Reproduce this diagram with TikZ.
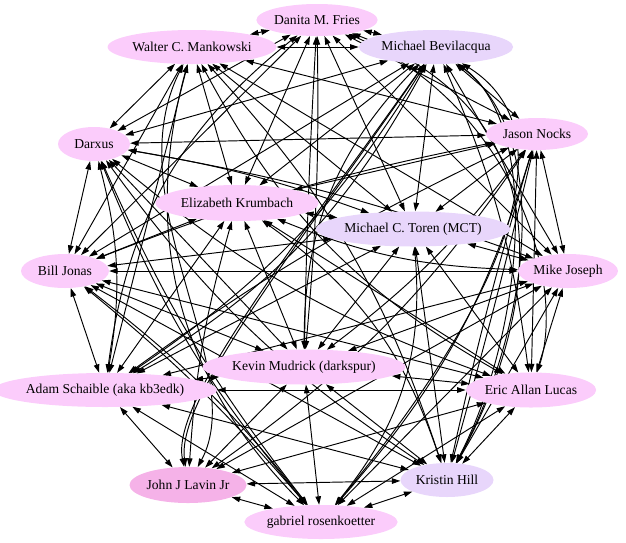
\documentclass[tikz,border=0pt]{standalone}
\usepackage{fontspec}
\setmainfont{Liberation Serif}
\usetikzlibrary{shapes.geometric,arrows.meta}
\pgfdeclarelayer{background}
\pgfsetlayers{background,main}
\definecolor{pinkn}{RGB}{251,204,251}
\definecolor{lavn}{RGB}{232,214,251}
\definecolor{johnn}{RGB}{245,178,232}
\tikzset{
  person/.style={ellipse,draw=none,inner sep=0pt,minimum height=34pt,font=\fontsize{13.6}{14}\selectfont},
  edge/.style={draw=black,line width=0.95pt,{Triangle[length=8.5pt,width=5.5pt]}-{Triangle[length=8.5pt,width=5.5pt]}}
}
\begin{document}
\begin{tikzpicture}[x=1pt,y=-1pt]
\useasboundingbox (0,0) rectangle (626,542);
\node[person,fill=pinkn,minimum width=118pt,minimum height=32pt] (dan) at (317,20) {Danita M. Fries};
\node[person,fill=pinkn,minimum width=162pt] (wal) at (192,47) {Walter C. Mankowski};
\node[person,fill=lavn,minimum width=152pt] (bev) at (436,47) {Michael Bevilacqua};
\node[person,fill=pinkn,minimum width=72pt] (dar) at (94,144) {Darxus};
\node[person,fill=pinkn,minimum width=102pt,minimum height=32pt] (jas) at (537,134) {Jason Nocks};
\node[person,fill=pinkn,minimum width=163pt,minimum height=36pt] (eli) at (237,203) {Elizabeth Krumbach};
\node[person,fill=lavn,minimum width=177pt,minimum height=35pt] (tor) at (413,229) {Michael C. Toren (MCT)};
\node[person,fill=pinkn,minimum width=88pt] (bil) at (65,271) {Bill Jonas};
\node[person,fill=pinkn,minimum width=100pt] (mik) at (568,271) {Mike Joseph};
\node[person,fill=pinkn,minimum width=198pt,minimum height=35pt] (kev) at (304,367) {Kevin Mudrick (darkspur)};
\node[person,fill=pinkn,minimum width=204pt] (ada) at (105,390) {Adam Schaible (aka kb3edk)};
\node[person,fill=pinkn,minimum width=128pt,minimum height=35pt] (eri) at (531,390) {Eric Allan Lucas};
\node[person,fill=johnn,minimum width=115pt,minimum height=36pt] (joh) at (188,485) {John J Lavin Jr};
\node[person,fill=lavn,minimum width=93pt] (kri) at (447,480) {Kristin Hill};
\node[person,fill=pinkn,minimum width=152pt] (gab) at (321,522) {gabriel rosenkoetter};
\begin{pgfonlayer}{background}
% Danita
\draw[edge] (dan) -- (wal);
\draw[edge] (dan) -- (bev);
\draw[edge] (dan) -- (dar);
\draw[edge] (dan) -- (jas);
\draw[edge] (dan) -- (eli);
\draw[edge] (dan) -- (tor);
\draw[edge] (dan) -- (bil);
\draw[edge] (dan) -- (mik);
\draw[edge] (dan) to[bend left=3] (kev);
\draw[edge] (kev) to[bend left=1] (dan);
\draw[edge] (dan) to[bend right=22] (ada);
\draw[edge] (dan) .. controls (520,110) and (565,290) .. (eri);
\draw[edge] (dan) .. controls (580,120) and (530,330) .. (kri);
% Walter
\draw[edge] (wal) -- (bev);
\draw[edge] (wal) -- (dar);
\draw[edge] (wal) -- (jas);
\draw[edge] (wal) -- (eli);
\draw[edge] (wal) -- (tor);
\draw[edge] (wal) -- (bil);
\draw[edge] (wal) -- (mik);
\draw[edge] (wal) -- (ada);
\draw[edge] (wal) to[bend right=16] (eri);
\draw[edge] (wal) .. controls (115,200) and (250,370) .. (joh);
\draw[edge] (wal) to[bend left=12] (kri);
\draw[edge] (wal) to[bend right=30] (gab);
% Bevilacqua
\draw[edge] (bev) -- (dar);
\draw[edge] (bev) -- (jas);
\draw[edge] (bev) -- (eli);
\draw[edge] (bev) -- (tor);
\draw[edge] (bev) -- (bil);
\draw[edge] (bev) -- (mik);
\draw[edge] (bev) to[bend right=22] (kev);
\draw[edge] (bev) to[bend left=12] (ada);
\draw[edge] (bev) to[bend left=15] (ada);
\draw[edge] (bev) to[bend left=8] (eri);
\draw[edge] (bev) .. controls (300,240) and (170,400) .. (joh);
\draw[edge] (bev) .. controls (306,236) and (176,396) .. (joh);
\draw[edge] (bev) .. controls (545,130) and (520,340) .. (kri);
\draw[edge] (bev) .. controls (555,140) and (528,330) .. (kri);
\draw[edge] (bev) .. controls (600,150) and (440,380) .. (gab);
% Darxus
\draw[edge] (dar) -- (jas);
\draw[edge] (dar) -- (eli);
\draw[edge] (dar) to[bend left=5] (tor);
\draw[edge] (dar) -- (bil);
\draw[edge] (dar) to[bend left=5] (mik);
\draw[edge] (dar) -- (kev);
\draw[edge] (dar) to[bend left=12] (ada);
\draw[edge] (dar) to[bend right=10] (eri);
\draw[edge] (dar) to[bend right=10] (kri);
\draw[edge] (dar) to[bend right=7] (gab);
\draw[edge] (dar) to[bend right=9] (gab);
% Jason
\draw[edge] (jas) -- (eli);
\draw[edge] (jas) -- (tor);
\draw[edge] (jas) to[bend right=5] (bil);
\draw[edge] (jas) -- (mik);
\draw[edge] (jas) to[bend left=8] (kev);
\draw[edge] (jas) to[bend right=5] (ada);
\draw[edge] (jas) -- (eri);
\draw[edge] (jas) to[bend left=10] (joh);
\draw[edge] (jas) to[bend left=1] (kri);
\draw[edge] (jas) to[bend right=2] (kri);
\draw[edge] (jas) to[bend left=12] (gab);
% Elizabeth
\draw[edge] (eli) -- (tor);
\draw[edge] (eli) -- (bil);
\draw[edge] (eli) to[bend right=10] (mik);
\draw[edge] (eli) -- (kev);
\draw[edge] (eli) -- (ada);
\draw[edge] (eli) -- (eri);
\draw[edge] (eli) to[bend right=6] (joh);
\draw[edge] (eli) to[bend left=18] (kri);
% Toren
\draw[edge] (tor) -- (bil);
\draw[edge] (tor) -- (mik);
\draw[edge] (tor) -- (kev);
\draw[edge] (tor) -- (ada);
\draw[edge] (tor) -- (eri);
\draw[edge] (tor) -- (kri);
\draw[edge] (tor) to[bend left=22] (gab);
% Bill
\draw[edge] (bil) -- (mik);
\draw[edge] (bil) -- (kev);
\draw[edge] (bil) -- (ada);
\draw[edge] (bil) -- (eri);
\draw[edge] (bil) -- (kri);
\draw[edge] (bil) to[bend left=5] (gab);
\draw[edge] (bil) to[bend left=7] (gab);
% Mike
\draw[edge] (mik) -- (kev);
\draw[edge] (mik) -- (ada);
\draw[edge] (mik) -- (eri);
\draw[edge] (mik) -- (joh);
\draw[edge] (mik) -- (kri);
\draw[edge] (mik) -- (gab);
% Kevin
\draw[edge] (kev) -- (ada);
\draw[edge] (kev) -- (eri);
\draw[edge] (kev) -- (joh);
\draw[edge] (kev) -- (kri);
\draw[edge] (kev) -- (gab);
% Adam
\draw[edge] (ada) -- (eri);
\draw[edge] (ada) -- (joh);
\draw[edge] (ada) -- (kri);
\draw[edge] (ada) -- (gab);
% Eric
\draw[edge] (eri) -- (joh);
\draw[edge] (eri) -- (kri);
\draw[edge] (eri) -- (gab);
% John, Kristin
\draw[edge] (joh) -- (kri);
\draw[edge] (joh) -- (gab);
\draw[edge] (kri) -- (gab);
\end{pgfonlayer}
\end{tikzpicture}
\end{document}
